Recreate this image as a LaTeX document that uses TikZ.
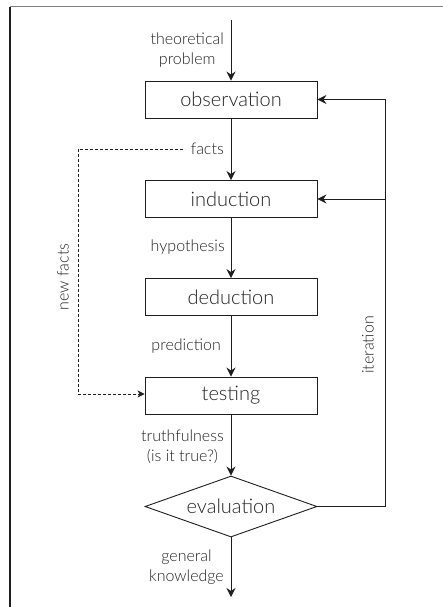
\documentclass[tikz,border=0pt]{standalone}
\usepackage{fontspec}
\IfFontExistsTF{Lato Light}{\setmainfont{Lato Light}}{\setmainfont{Lato}}
\usetikzlibrary{shapes.geometric,arrows.meta}
\definecolor{ink}{HTML}{1e1e1e}
\definecolor{txt}{HTML}{222222}
\begin{document}
\begin{tikzpicture}[x=1pt,y=-1pt,
  stepbox/.style={draw=ink,line width=0.9pt,minimum width=172pt,minimum height=37pt,inner sep=0pt,text=txt,font=\fontsize{20}{20}\selectfont},
  decide/.style={draw=ink,line width=0.9pt,diamond,aspect=2.8,minimum width=172pt,minimum height=61pt,inner sep=0pt,text=txt,font=\fontsize{20}{20}\selectfont},
  lbl/.style={text=txt,font=\fontsize{16}{20}\selectfont,align=center,inner sep=1pt},
  flow/.style={draw=ink,line width=0.9pt,-{Stealth[length=9pt,width=9pt,inset=3pt]}},
  dashflow/.style={draw=ink,line width=0.7pt,dashed,dash pattern=on 3pt off 2pt,-{Stealth[length=7pt,width=7pt,inset=2pt]}}
]
\useasboundingbox (0,0) rectangle (443,607);
\draw[gray,line width=1pt] (10,7) -- (443,7);
\draw[ink,line width=1.2pt] (10,7) -- (10,607);

\node[stepbox] (obs) at (231,99.5) {observation};
\node[stepbox] (ind) at (231,199) {induction};
\node[stepbox] (ded) at (231,297) {deduction};
\node[stepbox] (test) at (231,395.5) {testing};
\node[decide] (eval) at (231,506.5) {evaluation};

\coordinate (start) at (231,20);
\coordinate (finish) at (231,597);
\coordinate (r1) at (385,506.5);
\coordinate (r2) at (385,99.5);
\coordinate (dl) at (78,149);
\coordinate (dlb) at (78,394);

\draw[flow] (start) -- (obs.north);
\draw[flow] (obs.south) -- (ind.north);
\draw[flow] (ind.south) -- (ded.north);
\draw[flow] (ded.south) -- (test.north);
\draw[flow] (test.south) -- (eval.north);
\draw[flow] (eval.south) -- (finish);
\draw[flow] (eval.east) -- (r1) -- (r2) -- (obs.east);
\draw[flow] (ind.east -| r1) -- (ind.east);

\node[lbl,anchor=east] (theo) at (225,50) {theoretical\\problem};
\node[lbl,anchor=east] (facts) at (225,149) {facts};
\node[lbl,anchor=east] (hyp) at (226,247) {hypothesis};
\node[lbl,anchor=east] (pred) at (222,346) {prediction};
\node[lbl,anchor=east] (truth) at (225,447) {truthfulness\\(is it true?)};
\node[lbl,anchor=east] (gen) at (225,567) {general\\knowledge};
\node[lbl,rotate=90] (nf) at (63,277) {new facts};
\node[lbl,rotate=90] (iter) at (368,345) {iteration};

\draw[dashflow] ([xshift=-7pt]facts.west) -- (dl) -- (dlb) -- (test.west |- dlb);
\end{tikzpicture}
\end{document}
